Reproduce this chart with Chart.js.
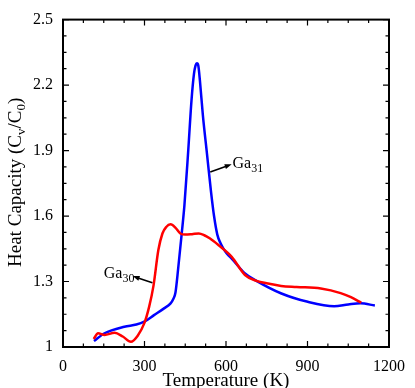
<!DOCTYPE html>
<html>
<head>
<meta charset="utf-8">
<script src="https://cdn.jsdelivr.net/npm/chart.js@4.4.0/dist/chart.umd.min.js"></script>
<style>
  body { margin: 0; background: #fff; }
  #wrap { width: 415px; height: 388px; position: relative; }
</style>
</head>
<body>
<div id="wrap"><canvas id="heat-chart"></canvas></div>
<script>

// data =================================================

const ga30Temp = [113, 129, 153, 190, 220, 250, 275, 299, 317, 333, 351, 366, 380, 396, 415, 432, 450, 475, 500, 520, 540, 573, 621, 670, 712, 760, 803, 860, 949, 1022, 1060, 1098];
const ga30Cv = [1.037, 1.063, 1.055, 1.065, 1.048, 1.024, 1.052, 1.108, 1.184, 1.28, 1.444, 1.52, 1.55, 1.562, 1.545, 1.52, 1.515, 1.517, 1.52, 1.512, 1.498, 1.466, 1.413, 1.33, 1.303, 1.29, 1.28, 1.275, 1.268, 1.247, 1.228, 1.203];

const ga31Temp = [114, 153, 226, 270, 299, 335, 372, 396, 406, 414, 424, 437, 447, 461, 473, 482, 488, 493, 498, 504, 515, 530, 545, 556, 568, 580, 591, 605, 621, 670, 712, 804, 901, 998, 1050, 1095, 1148];
const ga31Cv = [1.027, 1.063, 1.093, 1.103, 1.116, 1.146, 1.177, 1.2, 1.22, 1.25, 1.36, 1.52, 1.65, 1.9, 2.13, 2.25, 2.29, 2.3, 2.29, 2.22, 2.06, 1.885, 1.71, 1.6, 1.515, 1.475, 1.45, 1.425, 1.405, 1.337, 1.303, 1.245, 1.207, 1.187, 1.195, 1.2, 1.19];

const xTicks = [0, 300, 600, 900, 1200];
const yTicks = [1, 1.3, 1.6, 1.9, 2.2, 2.5];

const toPoints = (xs, ys) => xs.map((x, i) => ({ x: x, y: ys[i] }));

// labels with arrows (data coords) ======================

const callouts = [
  { name: 'Ga', sub: '30', textX: 150, textY: 1.316, from: [329, 1.294], to: [256, 1.325] },
  { name: 'Ga', sub: '31', textX: 624, textY: 1.818, from: [542, 1.802], to: [621, 1.837] }
];

const SERIF = '"Liberation Serif", "Times New Roman", serif';

function drawRich(ctx, parts, x, y, size, subSize) {
  let cx = x;
  parts.forEach(p => {
    ctx.font = (p.sub ? subSize : size) + 'px ' + SERIF;
    ctx.fillText(p.t, cx, p.sub ? y + 4 : y);
    cx += ctx.measureText(p.t).width;
  });
}

function richWidth(ctx, parts, size, subSize) {
  let w = 0;
  parts.forEach(p => {
    ctx.font = (p.sub ? subSize : size) + 'px ' + SERIF;
    w += ctx.measureText(p.t).width;
  });
  return w;
}

const framePlugin = {
  id: 'frame',
  afterDraw(chart) {
    const ctx = chart.ctx;
    const a = chart.chartArea;
    const xs = chart.scales.x;
    const ys = chart.scales.y;
    ctx.save();
    ctx.strokeStyle = '#000';
    ctx.fillStyle = '#000';

    // ticks inside on all sides
    ctx.lineWidth = 1.2;
    ctx.beginPath();
    for (let v = 0; v <= 1200; v += 75) {
      const px = xs.getPixelForValue(v);
      const len = v % 300 === 0 ? 6 : 3.5;
      ctx.moveTo(px, a.bottom); ctx.lineTo(px, a.bottom - len);
      ctx.moveTo(px, a.top); ctx.lineTo(px, a.top + len);
    }
    for (let i = 0; i <= 20; i++) {
      const v = 1 + i * 0.075;
      const py = ys.getPixelForValue(v);
      const len = i % 4 === 0 ? 6 : 3.5;
      ctx.moveTo(a.left, py); ctx.lineTo(a.left + len, py);
      ctx.moveTo(a.right, py); ctx.lineTo(a.right - len, py);
    }
    ctx.stroke();

    ctx.lineWidth = 2;
    ctx.strokeRect(a.left, a.top, a.right - a.left, a.bottom - a.top);

    // callouts
    callouts.forEach(c => {
      const x1 = xs.getPixelForValue(c.from[0]), y1 = ys.getPixelForValue(c.from[1]);
      const x2 = xs.getPixelForValue(c.to[0]), y2 = ys.getPixelForValue(c.to[1]);
      const ang = Math.atan2(y2 - y1, x2 - x1);
      ctx.lineWidth = 1.6;
      ctx.beginPath();
      ctx.moveTo(x1, y1);
      ctx.lineTo(x2 - 5 * Math.cos(ang), y2 - 5 * Math.sin(ang));
      ctx.stroke();
      ctx.beginPath();
      ctx.moveTo(x2, y2);
      ctx.lineTo(x2 - 7 * Math.cos(ang) + 2.5 * Math.sin(ang), y2 - 7 * Math.sin(ang) - 2.5 * Math.cos(ang));
      ctx.lineTo(x2 - 7 * Math.cos(ang) - 2.5 * Math.sin(ang), y2 - 7 * Math.sin(ang) + 2.5 * Math.cos(ang));
      ctx.closePath();
      ctx.fill();
      ctx.textBaseline = 'alphabetic';
      ctx.textAlign = 'left';
      drawRich(ctx, [{ t: c.name }, { t: c.sub, sub: true }],
        xs.getPixelForValue(c.textX), ys.getPixelForValue(c.textY), 16, 12);
    });

    // axis titles
    ctx.textBaseline = 'alphabetic';
    ctx.textAlign = 'left';
    const xTitle = [{ t: 'Temperature (K)' }];
    const xw = richWidth(ctx, xTitle, 19, 13);
    drawRich(ctx, xTitle, (a.left + a.right) / 2 - xw / 2, 386, 19, 13);

    const yTitle = [{ t: 'Heat Capacity (C' }, { t: 'v', sub: true }, { t: '/C' }, { t: '0', sub: true }, { t: ')' }];
    const yw = richWidth(ctx, yTitle, 19, 13);
    ctx.translate(21, (a.top + a.bottom) / 2 - 1);
    ctx.rotate(-Math.PI / 2);
    drawRich(ctx, yTitle, -yw / 2, 0, 19, 13);
    ctx.restore();
  }
};

const heatChart = new Chart(document.getElementById('heat-chart'), {
  type: 'line',
  data: {
    datasets: [{
      label: 'Ga30',
      data: toPoints(ga30Temp, ga30Cv),
      borderColor: '#ff0000',
      borderWidth: 2.5,
      pointRadius: 0,
      cubicInterpolationMode: 'monotone',
      fill: false
    }, {
      label: 'Ga31',
      data: toPoints(ga31Temp, ga31Cv),
      borderColor: '#0000ff',
      borderWidth: 2.5,
      pointRadius: 0,
      cubicInterpolationMode: 'monotone',
      fill: false
    }]
  },
  options: {
    responsive: true,
    maintainAspectRatio: false,
    animation: false,
    layout: { padding: { top: 19, right: 23, left: 0, bottom: 0 } },
    plugins: {
      legend: { display: false },
      tooltip: { enabled: false }
    },
    scales: {
      x: {
        type: 'linear',
        min: 0,
        max: 1200,
        afterFit: s => { s.height = 41; },
        afterBuildTicks: s => { s.ticks = xTicks.map(v => ({ value: v })); },
        grid: { display: false, drawTicks: false },
        border: { display: false },
        ticks: {
          padding: 10,
          color: '#000',
          maxRotation: 0,
          font: { family: SERIF, size: 16 },
          callback: v => String(v)
        }
      },
      y: {
        type: 'linear',
        min: 1,
        max: 2.5,
        afterFit: s => { s.width = 63; },
        afterBuildTicks: s => { s.ticks = yTicks.map(v => ({ value: v })); },
        grid: { display: false, drawTicks: false },
        border: { display: false },
        ticks: {
          padding: 10,
          color: '#000',
          font: { family: SERIF, size: 16 },
          callback: v => String(Number(v.toFixed(1)))
        }
      }
    }
  },
  plugins: [framePlugin]
});

</script>
</body>
</html>
